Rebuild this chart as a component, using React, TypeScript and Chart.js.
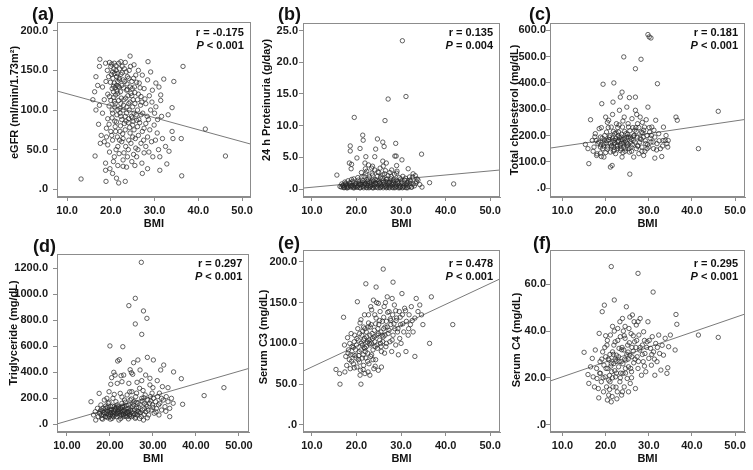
import React, { useEffect, useRef } from "react";
import { Chart, registerables } from "chart.js";
Chart.register(...registerables);

type Pt = [number, number];

// ---------- tick values ----------
const bmiTicks = [10, 20, 30, 40, 50];
const egfrTicks = [0, 50, 100, 150, 200];
const protTicks = [0, 5, 10, 15, 20, 25];
const cholTicks = [0, 100, 200, 300, 400, 500, 600];
const tgTicks = [0, 200, 400, 600, 800, 1000, 1200];
const c3Ticks = [0, 50, 100, 150, 200];
const c4Ticks = [0, 20, 40, 60];

// ---------- (a) eGFR vs BMI ----------
const egfrPoints: Pt[] = [
  [17.5,164],[17.4,155],[18.8,159],[19.7,160],[20.8,159],[21.8,159],[20.0,155],[20.4,148],[21.3,142],[22.3,161],
  [23.3,160],[24.4,168],[25.3,157],[26.3,150],[27.2,144],[28.5,161],[29.1,148],[30.3,134],[32.1,139],[34.4,136],
  [36.5,155],[16.6,142],[17.0,131],[16.3,123],[18.1,129],[18.9,136],[20.8,134],[21.9,129],[22.8,138],[23.8,142],
  [24.8,136],[25.7,144],[26.5,134],[27.6,127],[28.4,138],[29.5,125],[31.0,129],[31.4,119],
  [15.9,113],[17.4,106],[18.5,113],[19.7,117],[20.8,111],[21.6,121],[22.3,108],[23.4,115],[24.6,121],[25.0,104],
  [26.1,113],[26.9,117],[28.0,108],[29.1,100],[30.3,104],[31.4,112],[34.0,103],[33.1,94],[31.6,92],
  [16.6,100],[18.1,96],[19.3,89],[20.4,96],[21.3,85],[22.3,92],[23.1,83],[24.1,89],[25.0,81],[25.9,87],
  [26.9,94],[28.0,83],[28.9,75],[29.9,81],[17.2,82],[19.0,77],[20.0,73],[21.0,79],[22.1,73],[23.3,75],
  [24.4,71],[25.3,75],[26.3,68],[27.2,73],[28.4,66],[30.6,71],[31.8,64],[34.0,73],[34.2,64],[36.1,64],[41.6,76],
  [17.8,68],[18.5,60],[17.6,58],[19.3,56],[20.4,62],[21.6,54],[22.5,60],[23.4,54],[24.6,58],[25.7,52],
  [26.9,58],[28.0,54],[28.7,47],[29.6,41],[30.9,50],[32.5,54],[33.3,48],
  [16.4,42],[19.7,47],[20.8,41],[21.9,45],[22.8,37],[23.8,41],[24.8,35],[25.9,41],[27.1,33],[28.4,26],
  [31.2,41],[32.8,32],[46.2,42],
  [13.2,13],[18.8,33],[18.8,24],[18.9,10],[20.4,20],[21.3,14],[21.8,8],[22.8,29],[23.3,10],[27.2,20],
  [31.2,24],[36.2,17],[19.8,26],
  [20.3,127],[20.6,123],[21.1,119],[21.3,131],[21.6,136],[21.9,140],[22.2,123],[22.5,131],[23.0,113],[23.6,125],
  [24.1,108],[24.4,129],[25.1,113],[25.4,129],[20.3,100],[20.9,104],[21.6,100],[22.1,96],[22.8,100],[23.6,96],
  [24.2,100],[25.3,96],[26.1,100],[21.1,73],[22.8,64],[24.1,62],[25.0,66],[26.1,79],[27.6,77],
  [20.1,145],[20.7,152],[21.2,150],[21.5,146],[22.0,152],[22.6,147],[23.1,152],[23.7,133],[24.2,150],[24.9,127],
  [20.5,140],[21.0,128],[22.4,115],[23.9,118],
  [19.2,150],[19.5,142],[19.9,135],[20.2,158],[20.6,130],[20.9,146],[21.2,156],[21.4,124],[21.7,130],[22.0,138],
  [22.3,145],[22.6,155],[22.9,128],[23.2,136],[23.5,148],[23.8,126],[24.1,140],[24.5,155],[24.8,118],[25.2,140],
  [25.5,122],[25.9,135],[26.3,120],[26.7,128],[27.1,110],[19.3,120],[19.6,105],[20.0,112],[20.3,90],[20.7,116],
  [21.0,108],[21.4,94],[21.8,112],[22.1,102],[22.5,88],[22.9,106],[23.3,92],[23.7,104],[24.0,84],[24.4,110],
  [24.7,92],[25.1,86],[25.5,108],[25.8,94],[26.4,88],[26.8,106],[27.3,96],[27.8,114],[28.3,92],[28.8,118],
  [29.4,110],[30.0,96],[30.7,88],[19.0,66],[19.6,82],[20.2,68],[20.9,86],[21.5,66],[22.2,80],[22.7,70],
  [23.5,86],[24.3,78],[24.9,90],[25.6,64],[26.6,84],[27.5,62],[28.6,88],[29.3,60],[30.2,62],[21.2,50],
  [22.0,62],[23.0,46],[24.0,50],[25.2,44],[26.2,50],[27.6,46],[20.6,35],[21.6,30],[23.6,28],[25.5,30]
];
const egfrFit: Pt[] = [[7.7,124],[52.0,57]];

// ---------- (b) 24 h proteinuria vs BMI ----------
const protPoints: Pt[] = [
  [30.3,23.4],[27.1,14.2],[31.1,14.6],[19.5,11.3],[26.4,10.8],[21.4,8.5],[21.5,7.7],[24.7,7.9],[25.9,7.4],[26.2,6.7],
  [28.8,7.2],[18.6,6.8],[18.6,6.0],[20.8,6.4],[24.3,6.3],[28.6,5.2],[28.9,5.2],[34.6,5.5],[20.1,4.9],[22.1,5.1],
  [24.1,5.1],[30.2,4.6],[18.4,4.1],[18.9,3.9],[21.9,4.1],[22.7,3.8],[25.9,4.4],[26.7,4.1],[15.6,2.2],[18.8,3.2],
  [23.6,3.6],[29.0,3.7],[31.6,3.2],[32.7,2.4],[33.2,2.1],[36.4,1.0],[41.8,0.8],[34.7,0.3],[32.0,0.9],
  [16.3,0.4],[16.7,0.8],[17.1,0.3],[17.4,1.1],[17.8,0.6],[18.2,0.3],[18.6,0.9],[18.9,1.5],[19.3,0.4],[19.7,0.8],
  [20.1,0.3],[20.4,1.4],[20.8,0.7],[21.2,1.9],[21.5,0.4],[21.8,1.1],[22.1,2.4],[22.4,0.6],[22.7,1.6],[23.0,0.3],
  [23.3,1.1],[23.6,2.2],[23.9,0.7],[24.2,1.5],[24.5,0.3],[24.8,2.7],[25.1,0.9],[25.4,1.9],[25.7,0.4],[26.0,1.3],
  [26.3,2.4],[26.6,0.6],[26.9,1.6],[27.2,0.3],[27.5,1.1],[27.8,2.0],[28.1,0.7],[28.4,1.5],[28.7,0.3],[29.0,2.5],
  [29.3,0.9],[29.6,1.8],[29.9,0.4],[30.2,1.1],[30.5,0.3],[30.8,1.4],[31.2,0.6],[31.6,1.1],[31.9,1.9],[32.3,0.3],
  [32.7,0.8],[33.3,0.9],[33.8,1.4],[17.3,0.3],[17.8,0.2],[19.3,0.2],[20.8,0.2],[22.3,0.2],[23.8,0.2],[25.3,0.2],
  [26.7,0.2],[28.2,0.2],[29.7,0.2],[31.2,0.2],
  [16.6,0.3],[16.9,0.5],[17.2,0.2],[17.5,0.7],[17.8,0.4],[18.0,0.2],[18.3,0.6],[18.5,1.0],[18.8,0.3],[19.0,0.5],
  [19.2,1.2],[19.5,0.2],[19.7,0.6],[19.9,0.9],[20.2,0.3],[20.4,0.5],[20.6,1.1],[20.8,0.2],[21.0,0.7],[21.2,0.4],
  [21.4,1.3],[21.6,0.2],[21.8,0.6],[22.0,0.9],[22.2,0.3],[22.4,1.5],[22.6,0.5],[22.8,0.2],[23.0,1.0],[23.2,0.4],
  [23.4,0.7],[23.6,0.2],[23.8,1.2],[24.0,0.5],[24.2,0.3],[24.4,0.8],[24.6,1.4],[24.8,0.2],[25.0,0.6],[25.2,1.0],
  [25.4,0.3],[25.6,0.5],[25.8,1.7],[26.0,0.2],[26.2,0.8],[26.4,0.4],[26.6,1.2],[26.8,0.3],[27.0,0.6],[27.2,1.0],
  [27.4,0.2],[27.6,0.5],[27.8,0.9],[28.0,0.3],[28.2,1.3],[28.4,0.5],[28.6,0.2],[28.8,0.8],[29.0,0.4],[29.2,1.1],
  [29.4,0.2],[29.6,0.6],[29.8,0.3],[30.0,0.9],[30.3,0.2],[30.6,0.5],[30.9,0.3],[31.2,0.8],[31.5,0.2],[31.8,0.4],
  [32.1,1.2],[32.4,0.3],[33.0,0.5],[33.6,1.6],[34.2,0.7],
  [17.0,0.6],[17.6,0.9],[18.1,1.3],[18.7,0.5],[19.4,1.6],[19.8,0.4],[20.3,1.8],[20.7,0.9],[21.1,2.6],[21.3,1.0],
  [21.7,2.0],[21.9,0.8],[22.3,2.8],[22.5,1.2],[22.9,1.9],[23.1,0.6],[23.5,2.5],[23.7,1.4],[24.1,3.0],[24.3,1.0],
  [24.7,2.0],[24.9,1.2],[25.3,3.3],[25.5,0.8],[25.9,2.2],[26.1,1.1],[26.5,2.9],[26.7,1.5],[27.1,2.1],[27.3,0.8],
  [27.7,1.6],[27.9,3.0],[28.3,1.0],[28.5,2.3],[28.9,1.4],[29.1,2.8],[29.5,1.0],[29.9,1.6],[30.4,2.0],[30.7,0.9],
  [31.0,1.7],[31.4,1.0],[32.0,1.4],[32.6,1.9],[33.4,1.2],[23.4,3.3],[25.0,2.6],[26.0,3.6],[22.0,3.2],[27.5,2.6]
];
const protFit: Pt[] = [[8.0,0.15],[52.2,3.0]];

// ---------- (c) total cholesterol vs BMI ----------
const cholPoints: Pt[] = [
  [29.8,584],[30.1,575],[30.5,571],[24.2,499],[28.2,490],[26.9,454],[19.4,395],[21.9,400],[32.0,397],[23.8,365],
  [23.4,346],[25.5,344],[26.9,346],[46.1,292],[41.5,150],[36.3,270],[36.6,258],[33.4,232],[33.8,181],[34.2,169],
  [34.4,156],[34.5,181],[33.0,120],[25.6,53],[16.1,93],[21.5,86],[21.1,80],[18.8,133],[31.4,114],[29.6,150],
  [15.3,166],[15.9,150],[16.5,260],[16.9,181],[17.3,156],[17.6,207],[17.9,124],[18.2,169],[18.5,226],[18.8,194],
  [19.1,321],[19.3,150],[19.6,118],[19.7,181],[20.0,270],[20.2,213],[20.5,156],[20.7,258],[20.9,194],[21.1,137],
  [21.3,232],[21.5,175],[21.7,327],[21.9,156],[22.1,207],[22.3,131],[22.5,245],[22.7,175],[22.8,150],[23.0,213],
  [23.2,296],[23.4,162],[23.6,194],[23.8,118],[23.9,232],[24.2,175],[24.3,270],[24.6,150],[24.7,207],[24.9,308],
  [25.1,169],[25.3,232],[25.5,137],[25.7,194],[25.9,156],[26.1,264],[26.4,181],[26.5,118],[26.7,220],[26.9,296],
  [27.1,150],[27.3,194],[27.4,245],[27.7,131],[27.9,175],[28.0,270],[28.3,213],[28.4,156],[28.7,194],[28.8,124],
  [29.0,232],[29.3,169],[29.6,200],[29.8,308],[30.0,156],[30.2,213],[30.5,175],[30.7,232],[31.1,150],[31.4,194],
  [31.6,258],[31.9,169],[32.3,207],[32.7,150],[33.3,181],[22.3,188],[23.0,181],[23.8,184],[24.6,179],[25.3,194],
  [22.7,162],[23.4,143],[24.2,156],[24.9,194],[21.9,181],[21.1,169],[20.3,181],[19.6,169],[18.8,156],[17.8,181],
  [20.6,230],[21.4,160],[22.0,145],[22.9,200],[23.6,170],[24.4,215],[25.0,160],[25.8,175],[26.6,200],[27.5,160],
  [28.2,185],[29.1,140],[30.3,190],[31.0,175],[21.8,215],[23.1,240],[24.0,135],[26.0,140],[27.0,230],[28.6,210],
  [18.4,175],[18.9,165],[19.2,190],[19.5,160],[19.8,200],[20.1,172],[20.4,148],[20.7,185],[21.0,200],[21.3,160],
  [21.6,190],[21.8,140],[22.1,172],[22.4,210],[22.6,158],[22.9,178],[23.2,192],[23.5,150],[23.7,205],[24.0,168],
  [24.3,188],[24.5,140],[24.8,172],[25.1,205],[25.4,150],[25.6,218],[25.9,185],[26.2,165],[26.5,198],[26.8,175],
  [27.1,215],[27.4,160],[27.7,230],[28.0,190],[28.4,140],[28.8,220],[29.2,180],[29.7,165],[30.1,230],[30.6,200],
  [31.2,220],[31.8,145],[32.4,180],[33.2,160],[34.0,200],[19.0,230],[20.4,250],[21.6,280],[22.8,230],[24.0,255],
  [25.2,245],[26.3,230],[27.2,280],[28.5,250],[29.4,260],[17.1,140],[17.5,195],[18.0,130],[19.0,120],[20.0,135]
];
const cholFit: Pt[] = [[7.1,152],[52.3,261]];

// ---------- (d) triglyceride vs BMI ----------
const tgPoints: Pt[] = [
  [27.3,1246],[25.9,969],[24.4,913],[27.8,872],[28.6,815],[25.9,772],[27.4,692],[20.0,603],[23.0,597],[41.9,221],
  [46.5,282],[36.6,351],[34.8,403],[36.9,154],[33.9,59],
  [28.7,515],[30.1,495],[26.5,495],[25.5,474],[21.8,487],[22.2,497],[32.5,456],[31.8,418],[27.0,418],[24.7,420],
  [25.0,397],[25.3,385],[20.4,359],[20.9,400],[21.2,379],[22.6,374],[23.2,379],[31.0,336],[29.3,354],[28.3,379],
  [29.3,303],[30.0,282],[27.4,336],[26.3,323],[24.4,315],[22.8,328],[21.7,315],[20.2,308],[19.8,251],[32.2,290],
  [33.5,282],
  [15.6,174],[16.2,72],[16.6,97],[16.7,33],[17.1,123],[17.3,59],[17.5,238],[17.6,85],[17.9,149],[18.1,46],
  [18.2,103],[18.5,72],[18.7,187],[18.9,59],[19.0,123],[19.2,85],[19.5,51],[19.6,162],[19.8,97],[19.9,59],
  [20.2,136],[20.3,110],[20.5,46],[20.7,200],[20.8,85],[21.0,136],[21.1,72],[21.3,110],[21.4,174],[21.6,59],
  [21.8,97],[21.9,136],[22.1,33],[22.2,85],[22.4,238],[22.5,123],[22.7,72],[22.8,162],[23.0,97],[23.1,59],
  [23.3,136],[23.4,187],[23.6,85],[23.7,123],[23.9,59],[24.0,226],[24.2,97],[24.4,149],[24.5,72],[24.7,187],
  [24.8,110],[25.0,59],[25.1,251],[25.3,136],[25.4,85],[25.6,174],[25.7,110],[25.9,46],[26.0,213],[26.2,123],
  [26.3,72],[26.5,162],[26.6,97],[26.9,277],[27.0,149],[27.3,59],[27.4,200],[27.6,110],[27.8,33],[28.0,162],
  [28.2,226],[28.3,97],[28.6,136],[28.8,187],[29.0,72],[29.2,162],[29.4,213],[29.6,110],[29.9,149],[30.1,200],
  [30.3,85],[30.6,174],[30.8,123],[31.1,213],[31.4,72],[31.6,162],[32.0,110],[32.4,187],[32.8,136],[33.1,213],
  [33.5,174],[33.9,123],[34.3,200],[34.7,162],[21.7,85],[22.4,97],[23.2,110],[24.0,92],[24.7,77],[20.9,103],
  [20.2,77],[19.4,103],[18.6,92],[17.9,110],[20.0,90],[21.0,95],[22.0,115],[23.0,80],[24.4,100],[25.5,70],
  [26.8,88],[28.0,120],[21.5,130],[22.9,140],[19.0,140],[20.6,65],[23.5,65],[26.0,55],
  [17.7,95],[18.0,70],[18.4,125],[18.8,82],[19.1,60],[19.4,130],[19.7,75],[20.0,115],[20.4,92],[20.6,140],
  [20.9,60],[21.2,120],[21.5,80],[21.7,150],[22.0,100],[22.3,65],[22.6,110],[22.9,130],[23.2,75],[23.5,100],
  [23.8,145],[24.1,82],[24.3,120],[24.6,60],[24.9,135],[25.2,95],[25.5,150],[25.8,80],[26.1,170],[26.4,105],
  [26.7,130],[27.1,90],[27.5,180],[27.9,75],[28.4,150],[28.9,110],[29.5,180],[30.0,130],[30.7,95],[31.3,150],
  [32.0,200],[33.0,100],[19.3,200],[21.0,230],[22.8,210],[24.6,250],[26.2,240],[27.7,260],[29.8,240],[31.5,240],
  [18.3,40],[20.1,40],[22.5,45],[24.3,42],[26.9,45],[28.7,50],[19.8,170],[23.6,170],[25.0,195],[27.9,205]
];
const tgFit: Pt[] = [[7.7,3],[52.4,431]];

// ---------- (e) serum C3 vs BMI ----------
const c3Points: Pt[] = [
  [26.0,191],[22.1,173],[28.2,175],[24.4,169],[41.6,123],[36.8,157],[36.4,100],[33.1,84],[16.3,50],[21.0,50],
  [15.4,68],[16.2,63],[17.4,65],
  [17.1,132],[17.3,98],[17.6,84],[17.8,73],[18.0,107],[18.2,92],[18.4,80],[18.6,69],[18.8,112],[19.0,96],
  [19.2,86],[19.3,75],[19.5,102],[19.8,92],[19.9,82],[20.1,71],[20.2,151],[20.3,118],[20.4,104],[20.6,90],
  [20.7,77],[20.9,67],[21.0,129],[21.2,110],[21.3,98],[21.5,86],[21.6,73],[21.8,106],[21.9,94],[22.1,82],
  [22.2,114],[22.4,102],[22.5,88],[22.7,135],[22.8,75],[23.0,110],[23.1,98],[23.3,123],[23.4,86],[23.6,106],
  [23.7,92],[23.8,153],[24.0,116],[24.1,102],[24.3,80],[24.4,131],[24.6,110],[24.7,94],[24.9,67],[25.0,123],
  [25.2,104],[25.3,139],[25.5,114],[25.6,90],[25.8,127],[25.9,102],[26.1,118],[26.2,145],[26.4,110],[26.6,96],
  [26.7,127],[26.9,157],[27.1,112],[27.3,139],[27.5,102],[27.7,123],[27.9,90],[28.1,135],[28.2,110],[28.5,147],
  [28.6,118],[28.8,98],[29.0,131],[29.2,114],[29.4,86],[29.6,139],[29.7,106],[29.9,123],[30.2,161],[30.3,135],
  [30.6,114],[30.8,143],[31.1,90],[31.2,127],[31.6,110],[31.8,135],[32.1,123],[32.3,145],[32.7,114],[33.1,131],
  [33.4,155],[33.8,139],[34.2,147],[34.6,135],[34.9,123],[18.7,86],[20.8,61],[21.9,63],[23.0,61],[23.9,69],
  [25.6,71],[20.1,106],[21.6,120],[22.7,125],[24.1,135],[23.4,141],[24.9,149],
  [21.1,100],[21.7,95],[22.3,108],[22.9,100],[23.5,112],[24.2,96],[24.8,118],[25.4,100],[26.0,108],[26.9,120],
  [20.5,85],[22.0,90],[23.2,84],[19.6,110],[21.4,115],[22.6,120],[27.6,130],[28.9,128],[30.0,100],[26.3,88],
  [18.1,88],[18.5,100],[18.9,78],[19.3,95],[19.7,85],[20.0,98],[20.4,80],[20.7,112],[21.0,92],[21.3,82],
  [21.6,104],[21.9,118],[22.2,96],[22.5,78],[22.8,104],[23.1,120],[23.4,100],[23.7,80],[24.0,108],[24.3,124],
  [24.6,98],[24.9,112],[25.2,128],[25.5,96],[25.8,110],[26.1,132],[26.4,120],[26.7,100],[27.0,138],[27.3,116],
  [27.7,128],[28.0,104],[28.4,124],[28.8,140],[29.3,118],[29.8,132],[30.4,124],[31.0,140],[31.7,118],[32.5,128],
  [20.8,125],[21.8,135],[23.2,145],[24.5,150],[26.5,150],[28.0,155],[19.5,70],[21.5,68],[22.6,65],[24.2,72]
];
const c3Fit: Pt[] = [[8.0,66],[52.2,179]];

// ---------- (f) serum C4 vs BMI ----------
const c4Points: Pt[] = [
  [21.3,67.6],[27.5,64.7],[31.0,56.7],[46.1,37.3],[41.5,38.3],[36.3,47.1],[36.5,42.9],[36.1,31.9],[34.4,24.3],[18.4,11.4],
  [15.0,30.9],[15.9,21.4],[16.1,17.6],[16.5,24.7],[16.9,28.3],[17.1,20.4],[17.4,16.1],[17.6,31.9],[17.9,24.0],[18.0,19.7],
  [18.3,15.4],[18.5,39.0],[18.7,26.9],[18.8,21.9],[19.0,18.3],[19.2,48.3],[19.3,31.1],[19.6,25.4],[19.7,51.1],[19.9,20.4],
  [20.0,29.0],[20.2,16.1],[20.3,34.0],[20.5,24.0],[20.7,12.6],[20.8,27.6],[21.0,18.3],[21.1,38.3],[21.3,9.7],[21.4,22.6],
  [21.6,31.1],[21.7,16.1],[21.9,26.1],[22.0,53.3],[22.2,35.4],[22.3,20.4],[22.5,29.7],[22.7,14.0],[22.8,41.1],[23.0,24.7],
  [23.1,32.6],[23.3,18.3],[23.4,37.6],[23.6,26.9],[23.7,12.6],[23.9,45.4],[24.0,21.9],[24.2,31.9],[24.3,16.1],[24.5,36.9],
  [24.7,27.6],[24.8,50.4],[25.0,19.7],[25.1,34.0],[25.3,24.7],[25.4,41.1],[25.6,29.7],[25.7,17.6],[25.9,38.9],[26.0,22.6],
  [26.2,46.9],[26.4,31.4],[26.5,26.4],[26.7,35.4],[26.9,15.4],[27.1,42.6],[27.3,29.0],[27.5,24.0],[27.7,38.3],[27.9,31.9],
  [28.0,45.4],[28.3,21.1],[28.5,34.0],[28.7,26.9],[28.8,39.7],[29.1,30.4],[29.3,22.6],[29.6,35.4],[29.8,44.0],[30.0,28.3],
  [30.4,32.6],[30.6,25.4],[30.8,37.6],[31.1,31.1],[31.4,21.1],[31.6,34.7],[31.9,26.9],[32.3,38.3],[32.5,30.4],[32.8,23.3],
  [33.1,33.9],[33.4,29.7],[33.8,36.9],[34.2,21.9],[34.6,33.3],[35.0,38.3],
  [20.6,28.0],[21.2,25.0],[21.8,30.0],[22.4,27.0],[23.0,29.0],[23.8,33.0],[24.4,28.0],[25.2,31.0],[26.1,29.0],[27.0,33.0],
  [20.9,21.0],[22.1,23.0],[23.5,22.0],[24.6,24.0],[21.5,12.0],[22.6,11.0],[20.4,10.5],[24.1,40.0],[26.6,44.0],[29.0,36.0],
  [18.6,22],[19.1,28],[19.4,20],[19.8,33],[20.1,24],[20.4,36],[20.7,19],[21.0,30],[21.3,26],[21.6,20],
  [21.9,34],[22.2,28],[22.5,22],[22.8,36],[23.1,27],[23.4,20],[23.7,32],[24.0,26],[24.3,38],[24.6,22],
  [24.9,30],[25.2,28],[25.5,35],[25.8,24],[26.1,33],[26.4,38],[26.8,28],[27.2,36],[27.6,27],[28.0,33],
  [28.5,30],[29.0,25],[29.5,33],[30.1,36],[30.7,30],[31.3,28],[32.0,33],[19.5,14],[20.9,15],[22.4,16],
  [23.9,14],[25.3,14],[21.6,42],[23.3,44],[25.6,46],[27.5,44],[20.0,38],[22.0,40],[24.5,42],[26.0,20]
];
const c4Fit: Pt[] = [[7.1,18.6],[52.3,47.3]];

// ---------- panel specs ----------
interface Spec {
  label: string; yTitle: string; points: Pt[]; fit: Pt[]; r: string; pRest: string;
  xMin: number; xMax: number; yMin: number; yMax: number; yTicks: number[]; xDec: number;
  left: number; top: number; w: number; h: number; yW: number; padTop: number; padRight: number; xH: number;
  labelX: number; labelY: number; yTitleDx: number; yTitleDy: number; annY: number; yPad: number;
}

const specs: Spec[] = [
  { label: "(a)", yTitle: "eGFR (ml/min/1.73m²)", points: egfrPoints, fit: egfrFit, r: "r = -0.175", pRest: " < 0.001",
    xMin: 7.7, xMax: 52.0, yMin: -9.7, yMax: 211, yTicks: egfrTicks, xDec: 1,
    left: 0, top: 0, w: 256, h: 232, yW: 57, padTop: 22, padRight: 4, xH: 35,
    labelX: 32, labelY: 15, yTitleDx: -42, yTitleDy: -7, annY: 33, yPad: 5 },
  { label: "(b)", yTitle: "24 h Proteinuria (g/day)", points: protPoints, fit: protFit, r: "r = 0.135", pRest: " = 0.004",
    xMin: 8.0, xMax: 52.2, yMin: -1.26, yMax: 26.2, yTicks: protTicks, xDec: 1,
    left: 256, top: 0, w: 250, h: 232, yW: 47, padTop: 23, padRight: 6, xH: 35,
    labelX: 22, labelY: 15, yTitleDx: -36, yTitleDy: -10, annY: 33, yPad: 1 },
  { label: "(c)", yTitle: "Total cholesterol (mg/dL)", points: cholPoints, fit: cholFit, r: "r = 0.181", pRest: " < 0.001",
    xMin: 7.1, xMax: 52.3, yMin: -34, yMax: 628, yTicks: cholTicks, xDec: 1,
    left: 506, top: 0, w: 247, h: 232, yW: 44, padTop: 23, padRight: 8, xH: 35,
    labelX: 23, labelY: 15, yTitleDx: -35, yTitleDy: 0, annY: 33, yPad: 0 },
  { label: "(d)", yTitle: "Triglyceride (mg/dL)", points: tgPoints, fit: tgFit, r: "r = 0.297", pRest: " < 0.001",
    xMin: 7.7, xMax: 52.4, yMin: -59, yMax: 1310, yTicks: tgTicks, xDec: 2,
    left: 0, top: 232, w: 256, h: 238, yW: 57, padTop: 22, padRight: 4, xH: 38,
    labelX: 33, labelY: 15, yTitleDx: -43, yTitleDy: -10, annY: 32, yPad: 5 },
  { label: "(e)", yTitle: "Serum C3 (mg/dL)", points: c3Points, fit: c3Fit, r: "r = 0.478", pRest: " < 0.001",
    xMin: 8.0, xMax: 52.2, yMin: -8.6, yMax: 214.4, yTicks: c3Ticks, xDec: 1,
    left: 256, top: 232, w: 250, h: 238, yW: 47, padTop: 18, padRight: 6, xH: 38,
    labelX: 22, labelY: 12, yTitleDx: -39, yTitleDy: -4, annY: 32, yPad: 2 },
  { label: "(f)", yTitle: "Serum C4 (mg/dL)", points: c4Points, fit: c4Fit, r: "r = 0.295", pRest: " < 0.001",
    xMin: 7.1, xMax: 52.3, yMin: -3.2, yMax: 74.7, yTicks: c4Ticks, xDec: 1,
    left: 506, top: 232, w: 247, h: 238, yW: 44, padTop: 18, padRight: 8, xH: 38,
    labelX: 27, labelY: 12, yTitleDx: -33, yTitleDy: -1, annY: 32, yPad: 0 },
];

const FONT = '"Liberation Sans", Arial, sans-serif';
const GRAY = "#8c8c8c";

function Panel({ s }: { s: Spec }) {
  const ref = useRef<HTMLCanvasElement>(null);
  useEffect(() => {
    const canvas = ref.current!;
    const decor = {
      id: "decor",
      afterDraw(chart: any) {
        const { ctx, chartArea: ca } = chart;
        ctx.save();
        ctx.strokeStyle = GRAY;
        ctx.lineWidth = 1;
        ctx.strokeRect(Math.round(ca.left) + 0.5, Math.round(ca.top) + 0.5,
          Math.round(ca.right - ca.left) - 1, Math.round(ca.bottom - ca.top) - 1);
        ctx.fillStyle = "#111";
        ctx.textBaseline = "middle";
        ctx.textAlign = "left";
        ctx.font = `bold 18px ${FONT}`;
        ctx.fillText(s.label, s.labelX, s.labelY);
        ctx.font = `bold 11px ${FONT}`;
        ctx.textAlign = "center";
        ctx.fillText("BMI", (ca.left + ca.right) / 2, ca.bottom + 27);
        const right = ca.right - 7;
        ctx.textAlign = "right";
        ctx.fillText(s.r, right, s.annY);
        const wRest = ctx.measureText(s.pRest).width;
        ctx.fillText(s.pRest, right, s.annY + 12.5);
        ctx.font = `italic bold 11px ${FONT}`;
        ctx.fillText("P", right - wRest, s.annY + 12.5);
        ctx.font = `bold 11px ${FONT}`;
        ctx.translate(ca.left + s.yTitleDx, (ca.top + ca.bottom) / 2 + s.yTitleDy);
        ctx.rotate(-Math.PI / 2);
        ctx.textAlign = "center";
        ctx.fillText(s.yTitle, 0, 0);
        ctx.restore();
      },
    };
    const chart = new Chart(canvas, {
      type: "scatter",
      data: {
        datasets: [
          {
            data: s.points.map(([x, y]) => ({ x, y })),
            pointStyle: "circle",
            pointRadius: 2.2,
            pointBorderWidth: 0.8,
            borderColor: "rgba(40,40,40,0.9)",
            backgroundColor: "rgba(0,0,0,0)",
            order: 1,
          },
          {
            data: s.fit.map(([x, y]) => ({ x, y })),
            showLine: true,
            pointRadius: 0,
            borderColor: "#7a7a7a",
            borderWidth: 1,
            backgroundColor: "rgba(0,0,0,0)",
            order: 2,
          },
        ],
      },
      options: {
        responsive: false,
        animation: false,
        events: [],
        layout: { padding: { top: s.padTop, right: s.padRight, left: 0, bottom: 0 } },
        plugins: { legend: { display: false }, tooltip: { enabled: false }, title: { display: false } },
        scales: {
          x: {
            type: "linear",
            min: s.xMin,
            max: s.xMax,
            afterBuildTicks: (sc: any) => { sc.ticks = bmiTicks.map((v) => ({ value: v })); },
            afterFit: (sc: any) => { sc.height = s.xH; },
            grid: { display: true, drawOnChartArea: false, drawTicks: true, tickLength: 4, color: GRAY },
            border: { display: true, color: GRAY },
            ticks: {
              autoSkip: false, maxRotation: 0, padding: 3, color: "#1a1a1a",
              font: { family: FONT, size: 11, weight: "bold" },
              callback: (v: any) => Number(v).toFixed(s.xDec),
            },
          },
          y: {
            type: "linear",
            min: s.yMin,
            max: s.yMax,
            afterBuildTicks: (sc: any) => { sc.ticks = s.yTicks.map((v) => ({ value: v })); },
            afterFit: (sc: any) => { sc.width = s.yW; },
            grid: { display: true, drawOnChartArea: false, drawTicks: true, tickLength: 4, color: GRAY },
            border: { display: true, color: GRAY },
            ticks: {
              autoSkip: false, padding: s.yPad, color: "#1a1a1a",
              font: { family: FONT, size: 11, weight: "bold" },
              callback: (v: any) => (Number(v) === 0 ? ".0" : Number(v).toFixed(1)),
            },
          },
        },
      },
      plugins: [decor],
    } as any);
    return () => chart.destroy();
  }, [s]);
  return (
    <canvas
      ref={ref}
      width={s.w}
      height={s.h}
      style={{ position: "absolute", left: s.left, top: s.top, width: s.w, height: s.h }}
    />
  );
}

export default function App() {
  return (
    <div style={{ position: "fixed", left: 0, top: 0, width: 753, height: 470, background: "#fff", overflow: "hidden" }}>
      {specs.map((s) => (
        <Panel key={s.label} s={s} />
      ))}
    </div>
  );
}
